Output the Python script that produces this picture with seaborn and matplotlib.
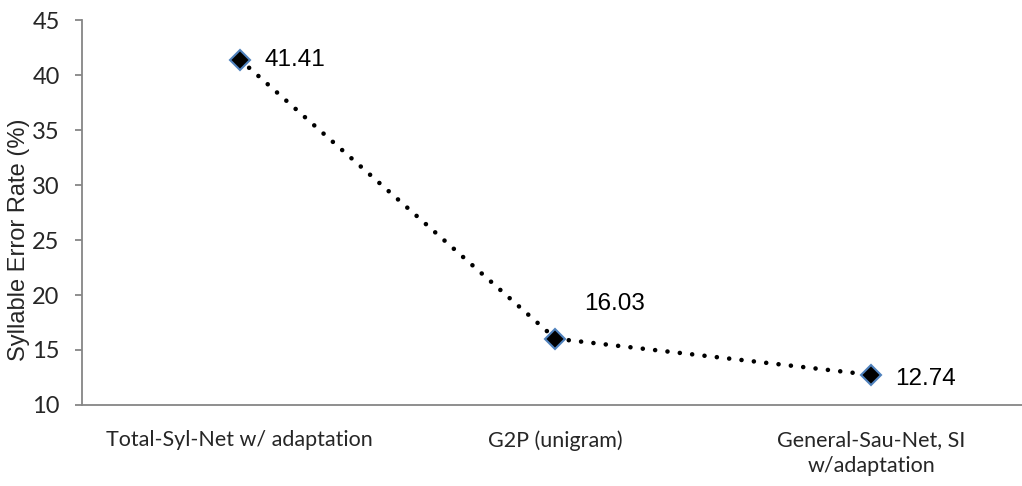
import matplotlib
matplotlib.use("Agg")
import matplotlib.pyplot as plt
import seaborn as sns
import pandas as pd

# chart data
systems = ["Total-Syl-Net w/ adaptation", "G2P (unigram)", "General-Sau-Net, SI\nw/adaptation"]
error_rate = [41.41, 16.03, 12.74]
y_ticks = [10, 15, 20, 25, 30, 35, 40, 45]

df = pd.DataFrame({"system": systems, "ser": error_rate})

sns.set_style("white")
plt.rcParams["font.family"] = ["Liberation Sans", "DejaVu Sans"]

fig = plt.figure(figsize=(10.22, 4.86), dpi=100)
ax = fig.add_axes([0.0802, 0.1667, 0.9266, 0.792])

sns.lineplot(data=df, x="system", y="ser", sort=False, ax=ax, color="black",
             linewidth=3.3, linestyle=(0, (0.01, 2.7)), dash_capstyle="round",
             marker="D", markersize=10, markerfacecolor="black",
             markeredgecolor="#4F81BD", markeredgewidth=1.5)

# value labels
offsets = [(18, 0, "left", "center"), (21, 17, "left", "bottom"), (17, -3, "left", "center")]
for i, v in enumerate(error_rate):
    dx, dy, ha, va = offsets[i]
    ax.annotate(f"{v:.2f}", (i, v), xytext=(dx, dy), textcoords="offset points",
                ha=ha, va=va, fontsize=17.5, color="black")

ax.set_xlim(-0.5, 2.5)
ax.set_ylim(10, 45)
ax.set_yticks(y_ticks)
ax.set_xticks(range(len(systems)))
ax.set_xticklabels(systems, family=["Lato", "DejaVu Sans"], fontsize=15.5, linespacing=1.4)
ax.set_xticks([-0.5, 0.5, 1.5, 2.5], minor=True)
for lab in ax.get_yticklabels():
    lab.set_family(["Lato", "DejaVu Sans"])
    lab.set_fontsize(17)

ax.tick_params(axis="x", which="major", length=0, pad=18)
ax.tick_params(axis="x", which="minor", length=5, width=1.3, color="#868686", direction="out")
ax.tick_params(axis="y", length=5, width=1.3, color="#868686", direction="out", pad=11, left=True)

ax.set_xlabel("")
ax.set_ylabel("Syllable Error Rate (%)", fontsize=17)
ax.yaxis.set_label_coords(-0.055, 0.43)

sns.despine(ax=ax, top=True, right=True)
for side in ["left", "bottom"]:
    ax.spines[side].set_color("#868686")
    ax.spines[side].set_linewidth(1.3)

fig.savefig("out.png", dpi=100)
